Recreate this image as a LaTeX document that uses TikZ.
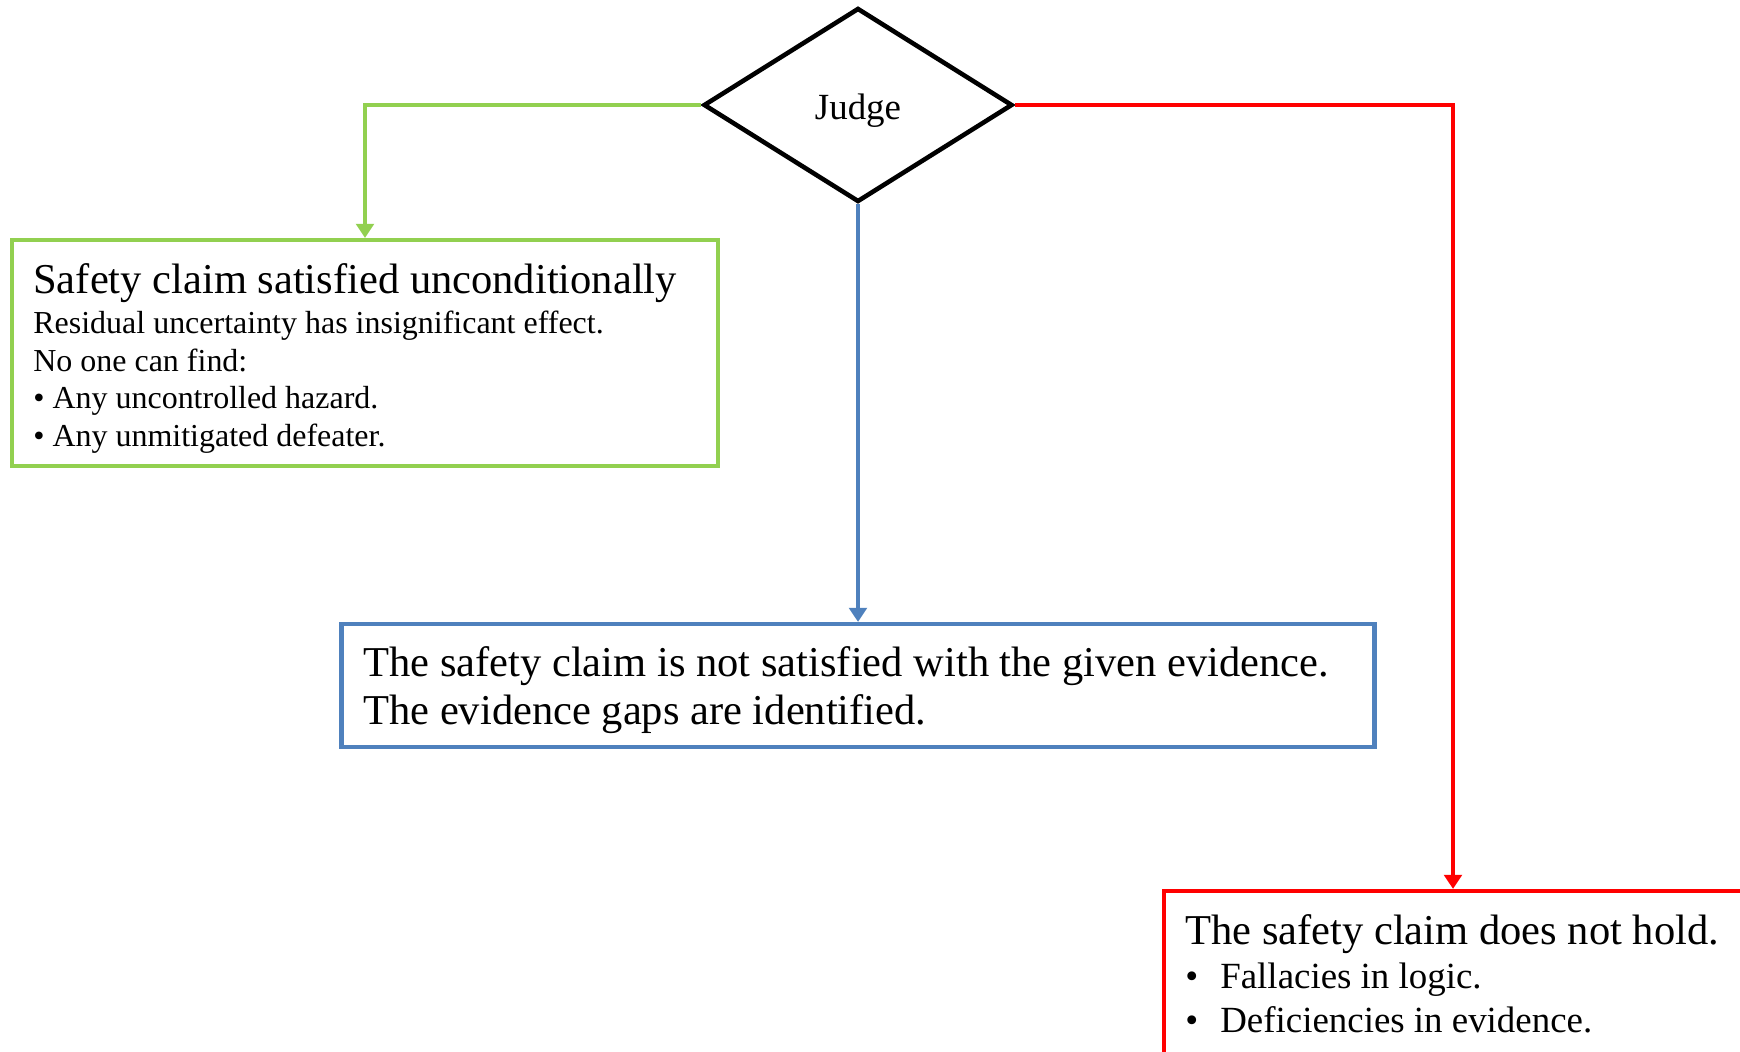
\documentclass[tikz,border=0pt]{standalone}
\usepackage{fontspec}
\setmainfont{Liberation Serif}
\usetikzlibrary{shapes.geometric,arrows.meta}

\definecolor{passgreen}{RGB}{146,208,80}
\definecolor{gapblue}{RGB}{79,129,189}
\definecolor{failred}{RGB}{255,0,0}

% plain word spaces instead of the ragged ones set by align=left
\newcommand{\plainspaces}{\spaceskip=0pt\xspaceskip=0pt\relax}

\begin{document}
\begin{tikzpicture}[x=0.02cm, y=-0.02cm,
    verdict/.style={draw, line width=2.4pt, rectangle, inner sep=0pt},
    verdicttext/.style={anchor=north west, inner sep=0pt, align=left, text width=20cm},
    link/.style={line width=2.4pt, -{Triangle[width=10pt,length=8pt]}}]
      % \draw[help lines, gray!50, very thin] (0,0) grid[step=100] (1740,1051);
      \useasboundingbox (0,0) rectangle (1740,1051);

      \node[draw, diamond, line width=2.6pt, minimum width=6.18cm, minimum height=3.88cm,
            inner sep=0pt, font=\fontsize{21}{25}\selectfont] (judge) at (858,105)
        {\raisebox{-3pt}[\height][\depth]{Judge}};

      % outcome boxes
      \node[verdict, draw=passgreen, minimum width=14.12cm, minimum height=4.52cm] (pass) at (365,353) {};
      \node[verdict, draw=gapblue, minimum width=20.66cm, minimum height=2.46cm] (gap) at (858,685.5) {};
      \node[verdict, draw=failred, minimum width=11.56cm, minimum height=3.4cm] (fail) at (1453,976) {};

      \node[verdicttext, font=\fontsize{18.2}{21.5}\selectfont] (passtext) at (33,263)
        {\plainspaces{\fontsize{24.2}{27}\selectfont Safety claim satisfied unconditionally}\\[1.3pt]
         Residual uncertainty has insignificant effect.\\
         No one can find:\\
         \textbullet\ Any uncontrolled hazard.\\
         \textbullet\ Any unmitigated defeater.};

      \node[verdicttext, font=\fontsize{24.2}{27.6}\selectfont] (gaptext) at (363,646)
        {\plainspaces The safety claim is not satisfied with the given evidence.\\
         The evidence gaps are identified.};

      \node[verdicttext, font=\fontsize{21}{25}\selectfont] (failtext) at (1185,914)
        {\plainspaces{\fontsize{24.2}{27}\selectfont The safety claim does not hold.}\\
         \makebox[0.7cm][l]{\textbullet}Fallacies in logic.\\
         \makebox[0.7cm][l]{\textbullet}Deficiencies in evidence.};

      \draw[link, passgreen] (judge.west) -| (pass.north);
      \draw[link, gapblue] (judge.south) -- (gap.north);
      \draw[link, failred] (judge.east) -| (fail.north);
    \end{tikzpicture}
\end{document}
